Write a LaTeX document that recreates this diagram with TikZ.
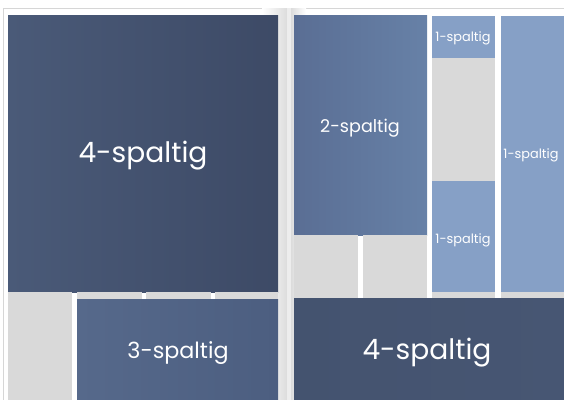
\documentclass[tikz,border=0pt]{standalone}
\usepackage{fontspec}
\setmainfont{Poppins}

\definecolor{seitenrand}{HTML}{D6D6D6}
\definecolor{bund}{HTML}{DCDCDC}
\definecolor{leergrau}{HTML}{D9D9D9}
\definecolor{dunkelA}{HTML}{4A5A78}
\definecolor{dunkelB}{HTML}{3D4A66}
\definecolor{mittelA}{HTML}{56698B}
\definecolor{mittelB}{HTML}{4C5E80}
\definecolor{zweiA}{HTML}{5A6E94}
\definecolor{zweiB}{HTML}{6781A7}
\definecolor{hellblau}{HTML}{86A0C6}
\definecolor{untenA}{HTML}{44536F}
\definecolor{untenB}{HTML}{475673}

\tikzset{
    leer/.style={fill=leergrau},
    eins/.style={fill=hellblau},
    etikett/.style={text=white, inner sep=0pt},
}

\begin{document}
\begin{tikzpicture}[x=0.03cm, y=-0.03cm]
    \useasboundingbox (0,0) rectangle (564,400);

    % Seiten und Bund
    \fill[white] (0,0) rectangle (564,400);
    \fill[white, draw=seitenrand] (3,8) rectangle (287,402);
    \shade[left color=white, right color=bund] (262,8.5) rectangle (287,400);
    \fill[black!7] (287,8.5) rectangle (291,400);
    \fill[white, draw=seitenrand] (291,8) rectangle (570,402);
    \shade[left color=bund, right color=white] (291,8.5) rectangle (306,400);

    % linke Seite
    \shade[left color=dunkelA, right color=dunkelB] (8,16) rectangle (278,292);
    \fill[leer] (8,292) rectangle (72,400);
    \fill[leer] (77,292) rectangle (141.5,299);
    \fill[leer] (145.5,292) rectangle (211,299);
    \fill[leer] (215,292) rectangle (278,299);
    \shade[left color=mittelA, right color=mittelB] (77,299) rectangle (278,400);

    % rechte Seite
    \shade[left color=zweiA, right color=zweiB] (294,16) rectangle (427,235);
    \fill[leer] (294,235) rectangle (358,298);
    \fill[leer] (363,235) rectangle (427,298);
    \fill[eins] (432,16) rectangle (495,58);
    \fill[leer] (432,58) rectangle (495,181);
    \fill[eins] (432,181) rectangle (495,292);
    \fill[leer] (432,292) rectangle (495,298);
    \fill[eins] (501,16) rectangle (566,292);
    \fill[leer] (501,292) rectangle (566,298);
    \shade[left color=untenA, right color=untenB] (294,298) rectangle (566,400);

    % Beschriftungen
    \node[etikett, font=\fontsize{24}{28}\selectfont] (vierOben) at (143,156) {4-spaltig};
    \node[etikett, font=\fontsize{19}{23}\selectfont] (drei) at (178,353) {3-spaltig};
    \node[etikett, font=\fontsize{15}{18}\selectfont] (zwei) at (360,128) {2-spaltig};
    \node[etikett, font=\fontsize{11}{13}\selectfont] (einsOben) at (463,38) {1-spaltig};
    \node[etikett, font=\fontsize{11}{13}\selectfont] (einsUnten) at (463,240) {1-spaltig};
    \node[etikett, font=\fontsize{11}{13}\selectfont] (einsRechts) at (531,155) {1-spaltig};
    \node[etikett, font=\fontsize{24}{28}\selectfont] (vierUnten) at (427,353) {4-spaltig};
\end{tikzpicture}
\end{document}
